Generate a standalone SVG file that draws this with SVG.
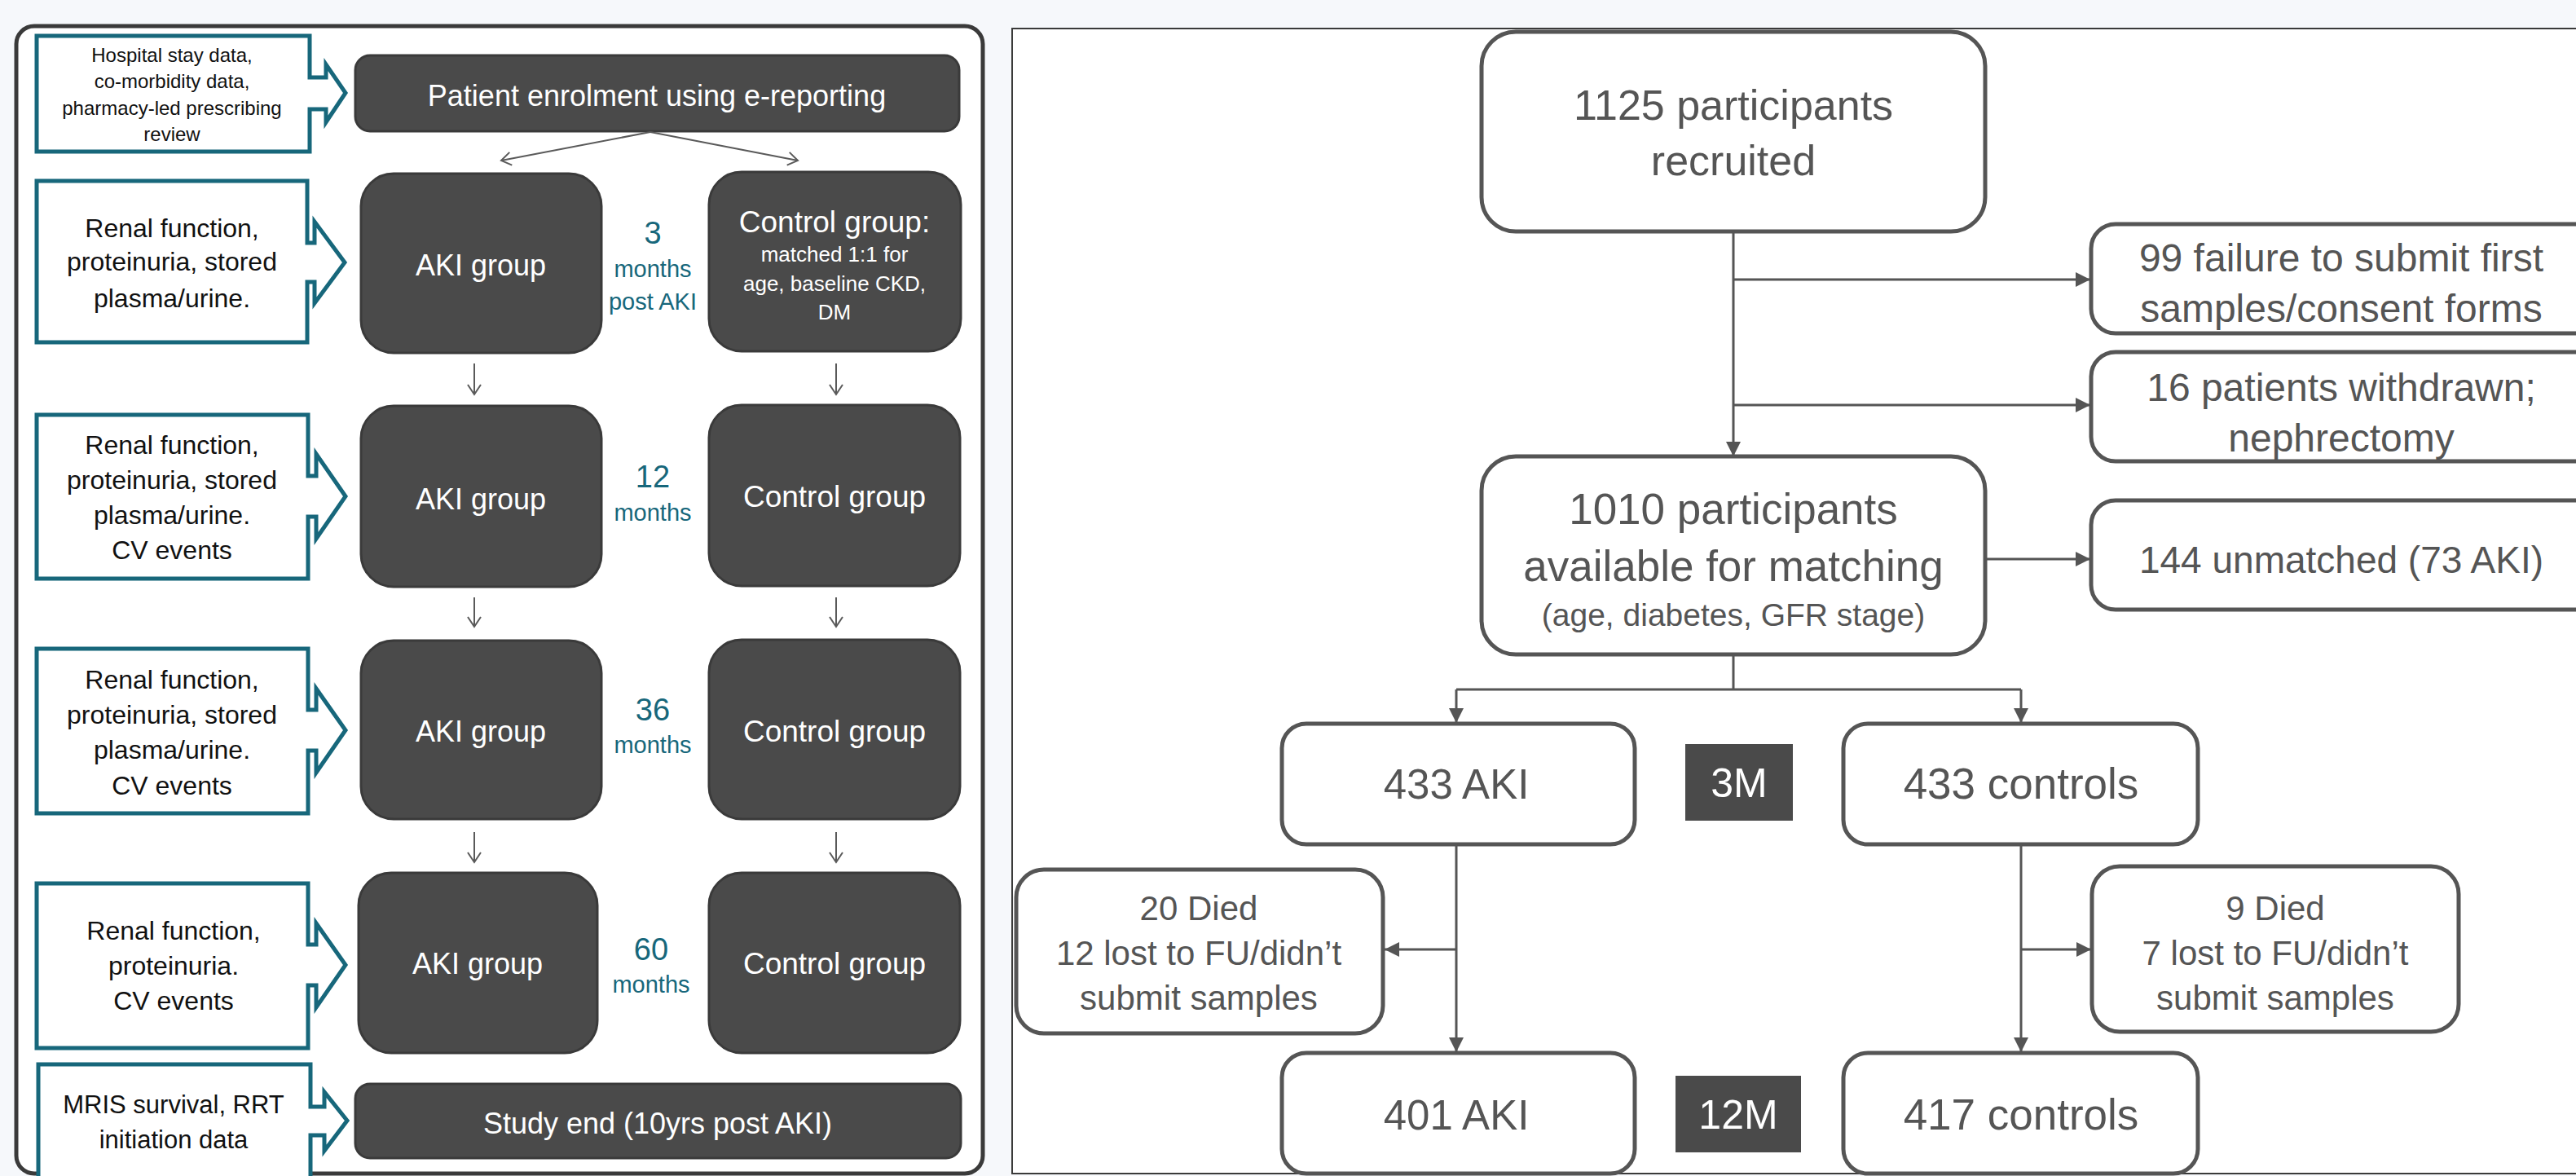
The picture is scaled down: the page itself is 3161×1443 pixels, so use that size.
<svg xmlns="http://www.w3.org/2000/svg" width="3161" height="1443" viewBox="0 0 3161 1443">
<defs>
<style>
.bg{fill:#f6f8fb}
.panel{fill:#ffffff;stroke:#3a3a3a;stroke-width:5}
.rpanel{fill:#ffffff;stroke:#3a3a3a;stroke-width:2}
.inbox{fill:#ffffff;stroke:#17677b;stroke-width:5;stroke-linejoin:miter}
.dark{fill:#4a4a4a;stroke:#3a3a3a;stroke-width:3}
.node{fill:#ffffff;stroke:#555555;stroke-width:5}
.darksq{fill:#4a4a4a}
.t{font-family:"Liberation Sans",Arial,sans-serif;text-anchor:middle}
.tin{fill:#111111}
.tw{fill:#ffffff}
.teal{fill:#17677b}
.tg{fill:#555555}
.conn{stroke:#555555;stroke-width:3;fill:none}
.thin{stroke:#5a5a5a;stroke-width:2;fill:none}
</style>
<marker id="tri" markerUnits="userSpaceOnUse" markerWidth="18" markerHeight="18" refX="18" refY="9" orient="auto">
<path d="M0,0 L18,9 L0,18 Z" fill="#555555"/>
</marker>
<marker id="open" markerUnits="userSpaceOnUse" markerWidth="16" markerHeight="18" refX="13" refY="9" orient="auto">
<path d="M1,1 L13,9 L1,17" fill="none" stroke="#5a5a5a" stroke-width="2"/>
</marker>
</defs>
<rect class="bg" x="0" y="0" width="3161" height="1443"/>

<!-- Left panel -->
<rect class="panel" x="20" y="32" width="1186" height="1408" rx="22"/>

<g id="in1">
<path class="inbox" d="M45,44 H380 V95 H400 V79 L424,114 L400,150 V134 H380 V186 H45 Z"/>
<text class="t tin" font-size="24"><tspan x="211" y="76">Hospital stay data,</tspan><tspan x="211" y="108">co-morbidity data,</tspan><tspan x="211" y="141">pharmacy-led prescribing</tspan><tspan x="211" y="173">review</tspan></text>
</g>
<g id="in2">
<path class="inbox" d="M45,222 H377 V298 H386 V272 L423,322 L386,372 V346 H377 V420 H45 Z"/>
<text class="t tin" font-size="32"><tspan x="211" y="291">Renal function,</tspan><tspan x="211" y="332">proteinuria, stored</tspan><tspan x="211" y="377">plasma/urine.</tspan></text>
</g>
<g id="in3">
<path class="inbox" d="M45,509 H378 V584 H388 V557 L424,609 L388,661 V634 H378 V710 H45 Z"/>
<text class="t tin" font-size="32"><tspan x="211" y="557">Renal function,</tspan><tspan x="211" y="600">proteinuria, stored</tspan><tspan x="211" y="643">plasma/urine.</tspan><tspan x="211" y="686">CV events</tspan></text>
</g>
<g id="in4">
<path class="inbox" d="M45,796 H378 V871 H388 V845 L424,896 L388,948 V921 H378 V998 H45 Z"/>
<text class="t tin" font-size="32"><tspan x="211" y="845">Renal function,</tspan><tspan x="211" y="888">proteinuria, stored</tspan><tspan x="211" y="931">plasma/urine.</tspan><tspan x="211" y="975">CV events</tspan></text>
</g>
<g id="in5">
<path class="inbox" d="M45,1084 H378 V1159 H388 V1133 L424,1184 L388,1236 V1209 H378 V1286 H45 Z"/>
<text class="t tin" font-size="32"><tspan x="213" y="1153">Renal function,</tspan><tspan x="213" y="1196">proteinuria.</tspan><tspan x="213" y="1239">CV events</tspan></text>
</g>
<g id="in6">
<path class="inbox" d="M47,1460 V1306 H381 V1358 H398 V1340 L426,1375 L398,1412 V1393 H381 V1460"/>
<text class="t tin" font-size="31"><tspan x="213" y="1366">MRIS survival, RRT</tspan><tspan x="213" y="1409">initiation data</tspan></text>
</g>

<g id="enrol">
<rect class="dark" x="436" y="68" width="741" height="93" rx="18"/>
<text class="t tw" x="806" y="130" font-size="36">Patient enrolment using e-reporting</text>
</g>
<g id="aki3">
<rect class="dark" x="443" y="213" width="295" height="220" rx="40"/>
<text class="t tw" x="590" y="338" font-size="36">AKI group</text>
</g>
<g id="ctl3">
<rect class="dark" x="870" y="211" width="309" height="220" rx="40"/>
<text class="t tw" x="1024" y="285" font-size="37">Control group:</text>
<text class="t tw" font-size="26"><tspan x="1024" y="321">matched 1:1 for</tspan><tspan x="1024" y="357">age, baseline CKD,</tspan><tspan x="1024" y="392">DM</tspan></text>
</g>
<g id="lbl3">
<text class="t teal" x="801" y="299" font-size="38">3</text>
<text class="t teal" font-size="29"><tspan x="801" y="340">months</tspan><tspan x="801" y="380">post AKI</tspan></text>
</g>
<g id="aki12">
<rect class="dark" x="443" y="498" width="295" height="222" rx="40"/>
<text class="t tw" x="590" y="625" font-size="36">AKI group</text>
</g>
<g id="ctl12">
<rect class="dark" x="870" y="497" width="308" height="222" rx="40"/>
<text class="t tw" x="1024" y="622" font-size="37">Control group</text>
</g>
<g id="lbl12">
<text class="t teal" x="801" y="598" font-size="38">12</text>
<text class="t teal" x="801" y="639" font-size="29">months</text>
</g>
<g id="aki36">
<rect class="dark" x="443" y="786" width="295" height="219" rx="40"/>
<text class="t tw" x="590" y="910" font-size="36">AKI group</text>
</g>
<g id="ctl36">
<rect class="dark" x="870" y="785" width="308" height="220" rx="40"/>
<text class="t tw" x="1024" y="910" font-size="37">Control group</text>
</g>
<g id="lbl36">
<text class="t teal" x="801" y="884" font-size="38">36</text>
<text class="t teal" x="801" y="924" font-size="29">months</text>
</g>
<g id="aki60">
<rect class="dark" x="440" y="1071" width="293" height="221" rx="40"/>
<text class="t tw" x="586" y="1195" font-size="36">AKI group</text>
</g>
<g id="ctl60">
<rect class="dark" x="870" y="1071" width="308" height="221" rx="40"/>
<text class="t tw" x="1024" y="1195" font-size="37">Control group</text>
</g>
<g id="lbl60">
<text class="t teal" x="799" y="1178" font-size="38">60</text>
<text class="t teal" x="799" y="1218" font-size="29">months</text>
</g>
<g id="studyend">
<rect class="dark" x="436" y="1330" width="743" height="91" rx="18"/>
<text class="t tw" x="807" y="1391" font-size="36">Study end (10yrs post AKI)</text>
</g>

<g id="left-connectors">
<line class="thin" x1="798" y1="162" x2="615" y2="197" marker-end="url(#open)"/>
<line class="thin" x1="798" y1="162" x2="979" y2="197" marker-end="url(#open)"/>
<line class="thin" x1="582" y1="446" x2="582" y2="484" marker-end="url(#open)"/>
<line class="thin" x1="1026" y1="446" x2="1026" y2="484" marker-end="url(#open)"/>
<line class="thin" x1="582" y1="733" x2="582" y2="769" marker-end="url(#open)"/>
<line class="thin" x1="1026" y1="733" x2="1026" y2="769" marker-end="url(#open)"/>
<line class="thin" x1="582" y1="1021" x2="582" y2="1058" marker-end="url(#open)"/>
<line class="thin" x1="1026" y1="1021" x2="1026" y2="1058" marker-end="url(#open)"/>
</g>

<!-- Right panel -->
<rect class="rpanel" x="1242" y="35" width="1960" height="1405"/>

<g id="recruited">
<rect class="node" x="1818" y="39" width="618" height="245" rx="42"/>
<text class="t tg" font-size="52"><tspan x="2127" y="147">1125 participants</tspan><tspan x="2127" y="215">recruited</tspan></text>
</g>
<g id="failure">
<rect class="node" x="2566" y="275" width="640" height="134" rx="30"/>
<text class="t tg" font-size="48"><tspan x="2873" y="333">99 failure to submit first</tspan><tspan x="2873" y="395">samples/consent forms</tspan></text>
</g>
<g id="withdrawn">
<rect class="node" x="2566" y="432" width="640" height="134" rx="30"/>
<text class="t tg" font-size="48"><tspan x="2873" y="492">16 patients withdrawn;</tspan><tspan x="2873" y="554">nephrectomy</tspan></text>
</g>
<g id="available">
<rect class="node" x="1818" y="560" width="618" height="243" rx="42"/>
<text class="t tg" font-size="53"><tspan x="2127" y="643">1010 participants</tspan><tspan x="2127" y="713">available for matching</tspan></text>
<text class="t tg" x="2127" y="768" font-size="39">(age, diabetes, GFR stage)</text>
</g>
<g id="unmatched">
<rect class="node" x="2566" y="614" width="640" height="134" rx="30"/>
<text class="t tg" x="2873" y="703" font-size="46">144 unmatched (73 AKI)</text>
</g>
<g id="aki433">
<rect class="node" x="1573" y="888" width="433" height="148" rx="30"/>
<text class="t tg" x="1787" y="980" font-size="51">433 AKI</text>
</g>
<g id="m3">
<rect class="darksq" x="2068" y="913" width="132" height="94"/>
<text class="t tw" x="2134" y="978" font-size="50">3M</text>
</g>
<g id="ctl433">
<rect class="node" x="2262" y="888" width="435" height="148" rx="30"/>
<text class="t tg" x="2480" y="980" font-size="53">433 controls</text>
</g>
<g id="died20">
<rect class="node" x="1247" y="1067" width="450" height="201" rx="34"/>
<text class="t tg" font-size="42"><tspan x="1471" y="1129">20 Died</tspan><tspan x="1471" y="1184">12 lost to FU/didn’t</tspan><tspan x="1471" y="1239">submit samples</tspan></text>
</g>
<g id="died9">
<rect class="node" x="2567" y="1063" width="450" height="203" rx="34"/>
<text class="t tg" font-size="42"><tspan x="2792" y="1129">9 Died</tspan><tspan x="2792" y="1184">7 lost to FU/didn’t</tspan><tspan x="2792" y="1239">submit samples</tspan></text>
</g>
<g id="aki401">
<rect class="node" x="1573" y="1292" width="433" height="148" rx="30"/>
<text class="t tg" x="1787" y="1386" font-size="51">401 AKI</text>
</g>
<g id="m12">
<rect class="darksq" x="2056" y="1320" width="154" height="94"/>
<text class="t tw" x="2133" y="1385" font-size="50">12M</text>
</g>
<g id="ctl417">
<rect class="node" x="2262" y="1292" width="435" height="148" rx="30"/>
<text class="t tg" x="2480" y="1386" font-size="53">417 controls</text>
</g>

<g id="right-connectors">
<line class="conn" x1="2127" y1="284" x2="2127" y2="560" marker-end="url(#tri)"/>
<line class="conn" x1="2127" y1="343" x2="2565" y2="343" marker-end="url(#tri)"/>
<line class="conn" x1="2127" y1="497" x2="2565" y2="497" marker-end="url(#tri)"/>
<line class="conn" x1="2436" y1="686" x2="2565" y2="686" marker-end="url(#tri)"/>
<polyline class="conn" points="2127,803 2127,846"/>
<polyline class="conn" points="1787,846 2480,846"/>
<line class="conn" x1="1787" y1="846" x2="1787" y2="887" marker-end="url(#tri)"/>
<line class="conn" x1="2480" y1="846" x2="2480" y2="887" marker-end="url(#tri)"/>
<line class="conn" x1="1787" y1="1036" x2="1787" y2="1291" marker-end="url(#tri)"/>
<line class="conn" x1="1787" y1="1165" x2="1699" y2="1165" marker-end="url(#tri)"/>
<line class="conn" x1="2480" y1="1036" x2="2480" y2="1291" marker-end="url(#tri)"/>
<line class="conn" x1="2480" y1="1165" x2="2566" y2="1165" marker-end="url(#tri)"/>
</g>
</svg>
